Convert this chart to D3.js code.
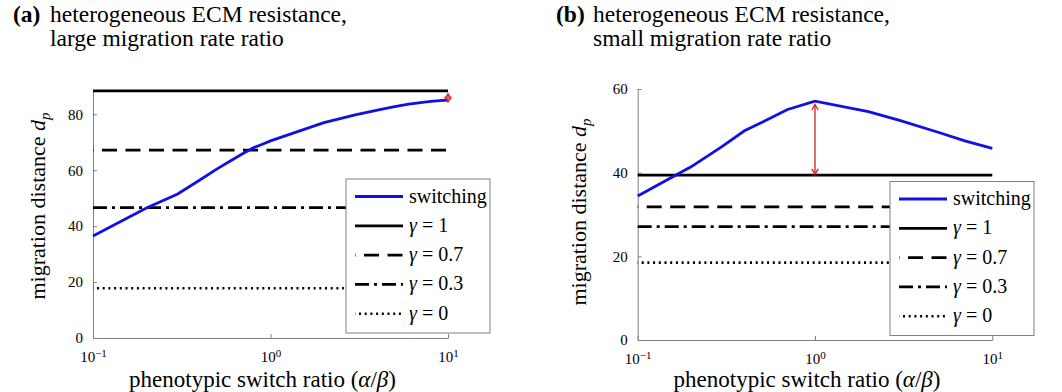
<!DOCTYPE html>
<html>
<head>
<meta charset="utf-8">
<script src="https://cdn.jsdelivr.net/npm/d3@7"></script>
<style>
  body { margin: 0; background: #fff; }
</style>
</head>
<body>
<div id="chart"></div>
<script>
// data
const xTicks = [0.1, 1, 10];
const gammaLabels = ["1", "0.7", "0.3", "0"];

const aSwitchX = [0.1, 0.2, 0.3, 0.4, 0.5, 0.6, 0.7, 0.8, 0.9, 1, 2, 3, 4, 5, 6, 7, 8, 9, 10];
const aSwitchY = [36.5, 46.5, 51.5, 56.5, 60.5, 63.5, 66, 68, 69.3, 70.5, 77, 79.8, 81.5, 82.7, 83.6, 84.2, 84.6, 84.9, 85.1];
const aGamma = [88.4, 67.2, 46.6, 17.8];
const aYTicks = [0, 20, 40, 60, 80];
const aArrow = [10, 84.4, 87.3];

const bSwitchX = [0.1, 0.2, 0.3, 0.4, 0.5, 0.7, 1, 2, 3, 5, 7, 10];
const bSwitchY = [34.4, 41.4, 46.3, 50.0, 52.0, 55.1, 57.1, 54.6, 52.5, 49.6, 47.6, 45.8];
const bGamma = [39.4, 31.8, 27.1, 18.5];
const bYTicks = [0, 20, 40, 60];
const bArrow = [1, 56.3, 39.6];

const dashes = ["none", "15 8.5", "14 5 3 5", "2 3.7"];
const dashOffsets = [0, -9, 0, -4];

const serif = "'Liberation Serif', 'Times New Roman', serif";

const svg = d3.select("#chart").append("svg")
    .attr("width", 1062)
    .attr("height", 392)
    .attr("font-family", serif);

const defs = svg.append("defs");
defs.append("marker")
    .attr("id", "vhead")
    .attr("viewBox", "-7 -5 9 10")
    .attr("refX", 0).attr("refY", 0)
    .attr("markerWidth", 9).attr("markerHeight", 10)
    .attr("markerUnits", "userSpaceOnUse")
    .attr("orient", "auto-start-reverse")
  .append("path")
    .attr("d", "M-5.5,-3.2L0,0L-5.5,3.2")
    .attr("fill", "none")
    .attr("stroke", "#d42020")
    .attr("stroke-width", 1.3);

function drawPanel(cfg) {
    const x = d3.scaleLog().domain([0.1, 10]).range([cfg.left, cfg.right]);
    const y = d3.scaleLinear().domain([0, cfg.ymax]).range([cfg.bottom, cfg.top]);

    const g = svg.append("g");

    // axes
    const xAxis = g.append("g")
        .attr("transform", `translate(0,${cfg.bottom})`)
        .call(d3.axisBottom(x).tickValues(xTicks).tickSizeInner(-4).tickSizeOuter(0).tickPadding(10))
        .attr("font-family", serif);
    xAxis.selectAll("text").each(function(d) {
        const t = d3.select(this).text("")
            .attr("font-family", serif).attr("font-size", 15).attr("dy", "0.95em");
        t.append("tspan").text("10");
        t.append("tspan").attr("dy", "-0.45em").attr("font-size", 11)
            .text(String(Math.round(Math.log10(d))).replace("-", "\u2212"));
    });

    g.append("g")
        .attr("transform", `translate(${cfg.left},0)`)
        .call(d3.axisLeft(y).tickValues(cfg.yTicks).tickSizeInner(-4).tickSizeOuter(0).tickPadding(10))
        .attr("font-family", serif)
        .selectAll("text").attr("font-family", serif).attr("font-size", 15);

    g.selectAll(".domain, .tick line").attr("stroke", "#808080");

    // constant gamma lines
    g.selectAll("line.gamma")
        .data(cfg.gamma)
        .join("line")
        .attr("class", "gamma")
        .attr("x1", x(0.1)).attr("x2", x(10))
        .attr("y1", d => y(d)).attr("y2", d => y(d))
        .attr("stroke", "#000")
        .attr("stroke-width", (d, i) => i === 3 ? 2.6 : 2.8)
        .attr("stroke-dasharray", (d, i) => dashes[i])
        .attr("stroke-dashoffset", (d, i) => dashOffsets[i]);

    // switching curve
    const pts = cfg.sx.map((v, i) => [v, cfg.sy[i]]);
    g.append("path")
        .datum(pts)
        .attr("fill", "none")
        .attr("stroke", "#1010e6")
        .attr("stroke-width", 2.8)
        .attr("d", d3.line().x(d => x(d[0])).y(d => y(d[1])));

    // red double arrow
    g.append("line")
        .attr("x1", x(cfg.arrow[0])).attr("x2", x(cfg.arrow[0]))
        .attr("y1", y(cfg.arrow[1])).attr("y2", y(cfg.arrow[2]))
        .attr("stroke", "#d42020")
        .attr("stroke-width", 1.3)
        .attr("marker-start", "url(#vhead)")
        .attr("marker-end", "url(#vhead)");

    // legend
    const lg = g.append("g").attr("transform", `translate(${cfg.legX},${cfg.legY})`);
    lg.append("rect")
        .attr("width", 144).attr("height", 154)
        .attr("fill", "#fff")
        .attr("stroke", "#808080")
        .attr("stroke-width", 1);
    const rows = [{label: "switching", color: "#1010e6", dash: "none", off: 0}]
        .concat(gammaLabels.map((l, i) => ({label: l, color: "#000", dash: dashes[i], off: dashOffsets[i], gamma: true})));
    rows.forEach((r, i) => {
        const ry = 17.5 + i * 29.3;
        lg.append("line")
            .attr("x1", 9).attr("x2", 57)
            .attr("y1", ry).attr("y2", ry)
            .attr("stroke", r.color)
            .attr("stroke-width", i === 4 ? 2.6 : 2.8)
            .attr("stroke-dasharray", r.dash)
            .attr("stroke-dashoffset", r.off);
        const t = lg.append("text")
            .attr("x", 63).attr("y", ry + 6)
            .attr("font-family", serif)
            .attr("font-size", 20);
        if (r.gamma) {
            t.append("tspan").attr("font-style", "italic").text("\u03b3");
            t.append("tspan").text(" = " + r.label);
        } else {
            t.text(r.label);
        }
    });

    // titles
    const title = g.append("text").attr("y", 22).attr("font-size", 23.5).attr("font-family", serif);
    title.append("tspan").attr("x", cfg.tagX).attr("font-weight", "bold").text(cfg.tag);
    title.append("tspan").attr("x", cfg.titleX).text("heterogeneous ECM resistance,");
    g.append("text").attr("x", cfg.titleX).attr("y", 46)
        .attr("font-family", serif).attr("font-size", 23.5).text(cfg.title2);

    // axis labels
    const xl = g.append("text")
        .attr("x", (cfg.left + cfg.right) / 2 - 8).attr("y", 387)
        .attr("text-anchor", "middle")
        .attr("font-family", serif)
        .attr("font-size", 23);
    xl.append("tspan").text("phenotypic switch ratio (");
    xl.append("tspan").attr("font-style", "italic").text("\u03b1");
    xl.append("tspan").text("/");
    xl.append("tspan").attr("font-style", "italic").text("\u03b2");
    xl.append("tspan").text(")");

    const yl = g.append("text")
        .attr("transform", `translate(${cfg.ylabX},${cfg.ylabY}) rotate(-90)`)
        .attr("text-anchor", "middle")
        .attr("font-family", serif)
        .attr("font-size", 22);
    yl.append("tspan").text("migration distance ");
    yl.append("tspan").attr("font-style", "italic").text("d");
    yl.append("tspan").attr("font-style", "italic").attr("font-size", 15).attr("dy", 5).text("p");
}

drawPanel({
    left: 93, right: 448, top: 90.8, bottom: 338, ymax: 88.4,
    yTicks: aYTicks, gamma: aGamma, sx: aSwitchX, sy: aSwitchY, arrow: aArrow,
    legX: 346, legY: 179,
    tag: "(a)", tagX: 13, titleX: 50, title2: "large migration rate ratio",
    ylabX: 45, ylabY: 206
});

drawPanel({
    left: 637.7, right: 992.3, top: 89, bottom: 340, ymax: 60,
    yTicks: bYTicks, gamma: bGamma, sx: bSwitchX, sy: bSwitchY, arrow: bArrow,
    legX: 890, legY: 181.5,
    tag: "(b)", tagX: 556, titleX: 593, title2: "small migration rate ratio",
    ylabX: 586, ylabY: 212
});
</script>
</body>
</html>
